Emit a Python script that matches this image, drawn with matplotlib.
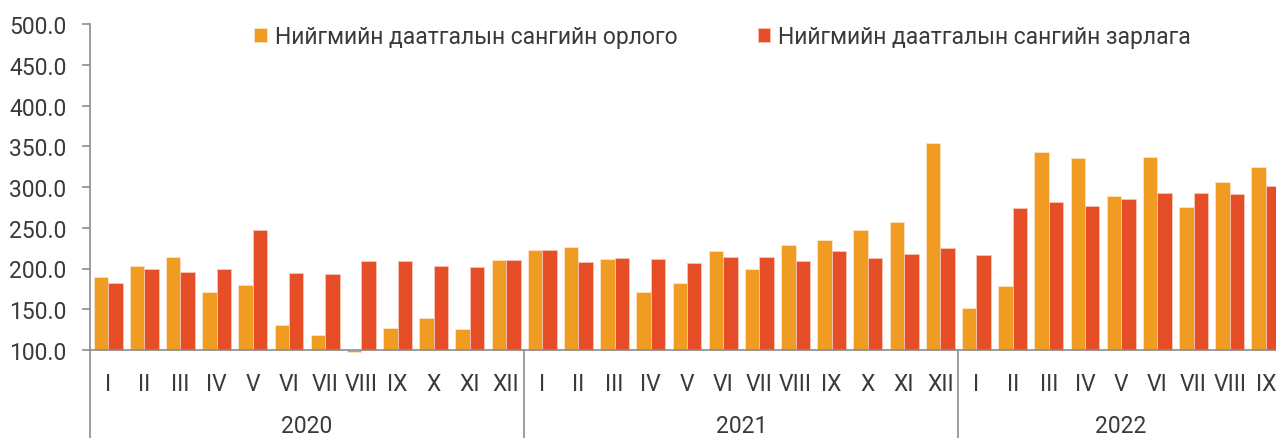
import matplotlib
matplotlib.use('Agg')
import matplotlib.pyplot as plt
import matplotlib.transforms as mtransforms
import numpy as np

years = ['2020', '2021', '2022']
months_per_year = [12, 12, 9]
roman = ['I', 'II', 'III', 'IV', 'V', 'VI', 'VII', 'VIII', 'IX', 'X', 'XI', 'XII']

income = [189, 202.5, 213.5, 171.7, 180, 131, 119, 98, 126.7, 139.8, 126.3, 211,
          222.9, 226.2, 211.8, 170.9, 182.3, 221.6, 198.8, 228.6, 234.8, 247, 256.5, 353.6,
          152.1, 178.3, 342.5, 335.5, 288.8, 336.4, 274.9, 305.6, 324]
expense = [182, 198.8, 196.3, 199.1, 246.7, 194.2, 193.8, 208.6, 208.6, 203.2, 202.4, 210.6,
           222.9, 207.4, 213, 211.8, 206.5, 214.3, 213.5, 209, 220.9, 213, 217.6, 224.6,
           216, 273.7, 281, 276.5, 284.8, 292.9, 292.1, 291.3, 301.5]

labels = ['Нийгмийн даатгалын сангийн орлого', 'Нийгмийн даатгалын сангийн зарлага']
colors = ['#F09C22', '#E54E26']

plt.rcParams['font.family'] = ['Roboto', 'DejaVu Sans']
text_color = '#3a3a3a'
axis_color = '#8c8c8c'
fs = 16.5

W, H = 1276, 439
fig = plt.figure(figsize=(W / 100, H / 100), dpi=100)
# plot area runs a little past the right edge, as in the original crop
ax = fig.add_axes([90 / W, (H - 351) / H, 1194 / W, 326 / H])

month_labels = []
for n in months_per_year:
    month_labels += roman[:n]
x = np.arange(len(month_labels))
bw = 0.4
base = 100
ax.bar(x - bw / 2, np.array(income) - base, bw, bottom=base, color=colors[0],
       edgecolor='#fde3c4', linewidth=0.6, label=labels[0], clip_on=False, zorder=2)
ax.bar(x + bw / 2, np.array(expense) - base, bw, bottom=base, color=colors[1],
       edgecolor='#f7c4b4', linewidth=0.6, label=labels[1], clip_on=False, zorder=2)

ax.set_xlim(-0.5, len(x) - 0.5)
ax.set_ylim(100, 500)
ax.set_yticks(np.arange(100, 501, 50))
ax.set_yticklabels([f'{v:.1f}' for v in np.arange(100, 501, 50)])
ax.set_xticks(x)
ax.set_xticklabels(month_labels)
ax.tick_params(axis='y', length=6, width=1.2, color=axis_color, pad=11,
               labelsize=fs, labelcolor=text_color)
ax.tick_params(axis='x', length=0, pad=16, labelsize=fs, labelcolor=text_color)

for s in ['top', 'right']:
    ax.spines[s].set_visible(False)
ax.spines['bottom'].set_color(axis_color)
ax.spines['bottom'].set_linewidth(1.2)
ax.spines['bottom'].set_zorder(3)
ax.spines['left'].set_color(axis_color)
ax.spines['left'].set_linewidth(1.2)

# year group labels and separators below the axis
trans = mtransforms.blended_transform_factory(ax.transData, ax.transAxes)
bottom = -88 / 326
ax.plot([-0.5, -0.5], [0, bottom], transform=trans, color=axis_color, lw=1.2, clip_on=False)
start = 0
for yr, n in zip(years, months_per_year):
    end = start + n
    ax.text((start + end - 1) / 2, -76 / 326, yr, transform=trans, ha='center', va='center',
            fontsize=fs, color=text_color)
    if end < len(x):
        ax.plot([end - 0.5, end - 0.5], [0, bottom], transform=trans, color=axis_color,
                lw=1.2, clip_on=False)
    start = end

ax.legend(loc='upper center', bbox_to_anchor=(0.53, 1.06), ncol=2, frameon=False,
          fontsize=fs, handlelength=0.55, handleheight=0.55, handletextpad=0.35,
          columnspacing=3.5, labelcolor=text_color)

fig.savefig('out.png', dpi=100)
